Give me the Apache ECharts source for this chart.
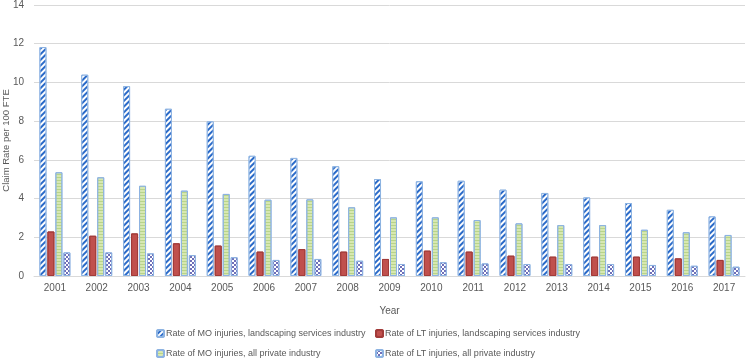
<!DOCTYPE html>
<html>
<head>
<meta charset="utf-8">
<script src="https://cdn.jsdelivr.net/npm/echarts@6/dist/echarts.min.js"></script>
<style>html,body{margin:0;padding:0;background:#fff}#c{width:750px;height:360px}</style>
</head>
<body>
<div id="c"></div>
<script>
const years = ['2001','2002','2003','2004','2005','2006','2007','2008','2009','2010','2011','2012','2013','2014','2015','2016','2017'];
const moLandscaping = [11.83,10.40,9.81,8.64,7.99,6.21,6.10,5.67,5.01,4.89,4.92,4.46,4.29,4.06,3.77,3.42,3.08];
const ltLandscaping = [2.30,2.08,2.20,1.69,1.57,1.26,1.39,1.26,0.88,1.31,1.26,1.05,1.00,1.00,1.00,0.91,0.83];
const moAll = [5.36,5.10,4.66,4.41,4.24,3.94,3.96,3.55,3.03,3.03,2.89,2.72,2.63,2.63,2.39,2.26,2.12];
const ltAll = [1.22,1.22,1.17,1.08,0.97,0.83,0.88,0.79,0.62,0.71,0.65,0.62,0.62,0.62,0.57,0.53,0.48];
const yTicks = [0,2,4,6,8,10,12,14];
const names = [
  'Rate of MO injuries, landscaping services industry',
  'Rate of LT injuries, landscaping services industry',
  'Rate of MO injuries, all private industry',
  'Rate of LT injuries, all private industry'
];

const font = 'Liberation Sans, Arial, sans-serif';
const chart = echarts.init(document.getElementById('c'), null, {renderer: 'canvas'});

const styles = [
  {color: '#2A6AC8', borderColor: '#8DB3E2', borderWidth: 1,
   decal: {symbol: 'rect', symbolSize: 1, dashArrayX: [1, 0], dashArrayY: [2, 2], rotation: -Math.PI / 4, color: '#ffffff'}},
  {color: '#C0504D', borderColor: '#A23B39', borderWidth: 1, decal: {symbol: 'none'}},
  {color: '#D7E8B0', borderColor: '#8DB3E2', borderWidth: 1,
   decal: {symbol: 'rect', symbolSize: 1, dashArrayX: [1, 0], dashArrayY: [1, 2], rotation: 0, color: '#B8D48A'}},
  {color: '#ffffff', borderColor: '#8DB3E2', borderWidth: 1,
   decal: {symbol: 'rect', symbolSize: 1, dashArrayX: [[2, 2], [0, 2, 2, 0]], dashArrayY: [2, 0], rotation: 0, color: '#6F6FB8'}}
];
const datas = [moLandscaping, ltLandscaping, moAll, ltAll];

const series = names.map((n, i) => ({
  name: n,
  type: 'bar',
  data: datas[i],
  barWidth: 7,
  barGap: '14%',
  itemStyle: styles[i],
  emphasis: {disabled: true}
}));

const legendPos = [
  {left: 156, top: 329},
  {left: 375, top: 329},
  {left: 156, top: 349},
  {left: 375, top: 349}
];
const legends = names.map((n, i) => ({
  data: [n],
  left: legendPos[i].left,
  top: legendPos[i].top,
  itemWidth: 7,
  itemHeight: 7,
  itemGap: 0,
  padding: 0,
  textStyle: {fontFamily: font, fontSize: 9, color: '#595959', padding: [0, 0, 0, -3]},
  selectedMode: false
}));

chart.setOption({
  animation: false,
  aria: {enabled: true, decal: {show: true}},
  grid: {left: 34, right: 5, top: 5, bottom: 84, containLabel: false, outerBoundsMode: 'none'},
  legend: legends,
  xAxis: {
    type: 'category',
    data: years,
    name: 'Year',
    nameLocation: 'middle',
    nameGap: 30,
    nameMoveOverlap: false,
    nameTextStyle: {fontFamily: font, fontSize: 10, color: '#595959'},
    axisLine: {lineStyle: {color: '#D9D9D9'}},
    axisTick: {show: false},
    axisLabel: {fontFamily: font, fontSize: 10, color: '#595959', margin: 7}
  },
  yAxis: {
    type: 'value',
    min: 0, max: 14, interval: 2,
    name: 'Claim Rate per 100 FTE',
    nameLocation: 'middle',
    nameGap: 23,
    nameMoveOverlap: false,
    nameTextStyle: {fontFamily: font, fontSize: 9.5, color: '#595959'},
    axisLine: {show: false},
    axisTick: {show: false},
    splitLine: {lineStyle: {color: '#D9D9D9'}},
    axisLabel: {fontFamily: font, fontSize: 10, color: '#595959', margin: 10,
      formatter: v => yTicks.includes(v) ? String(v) : ''}
  },
  series: series
});
</script>
</body>
</html>
